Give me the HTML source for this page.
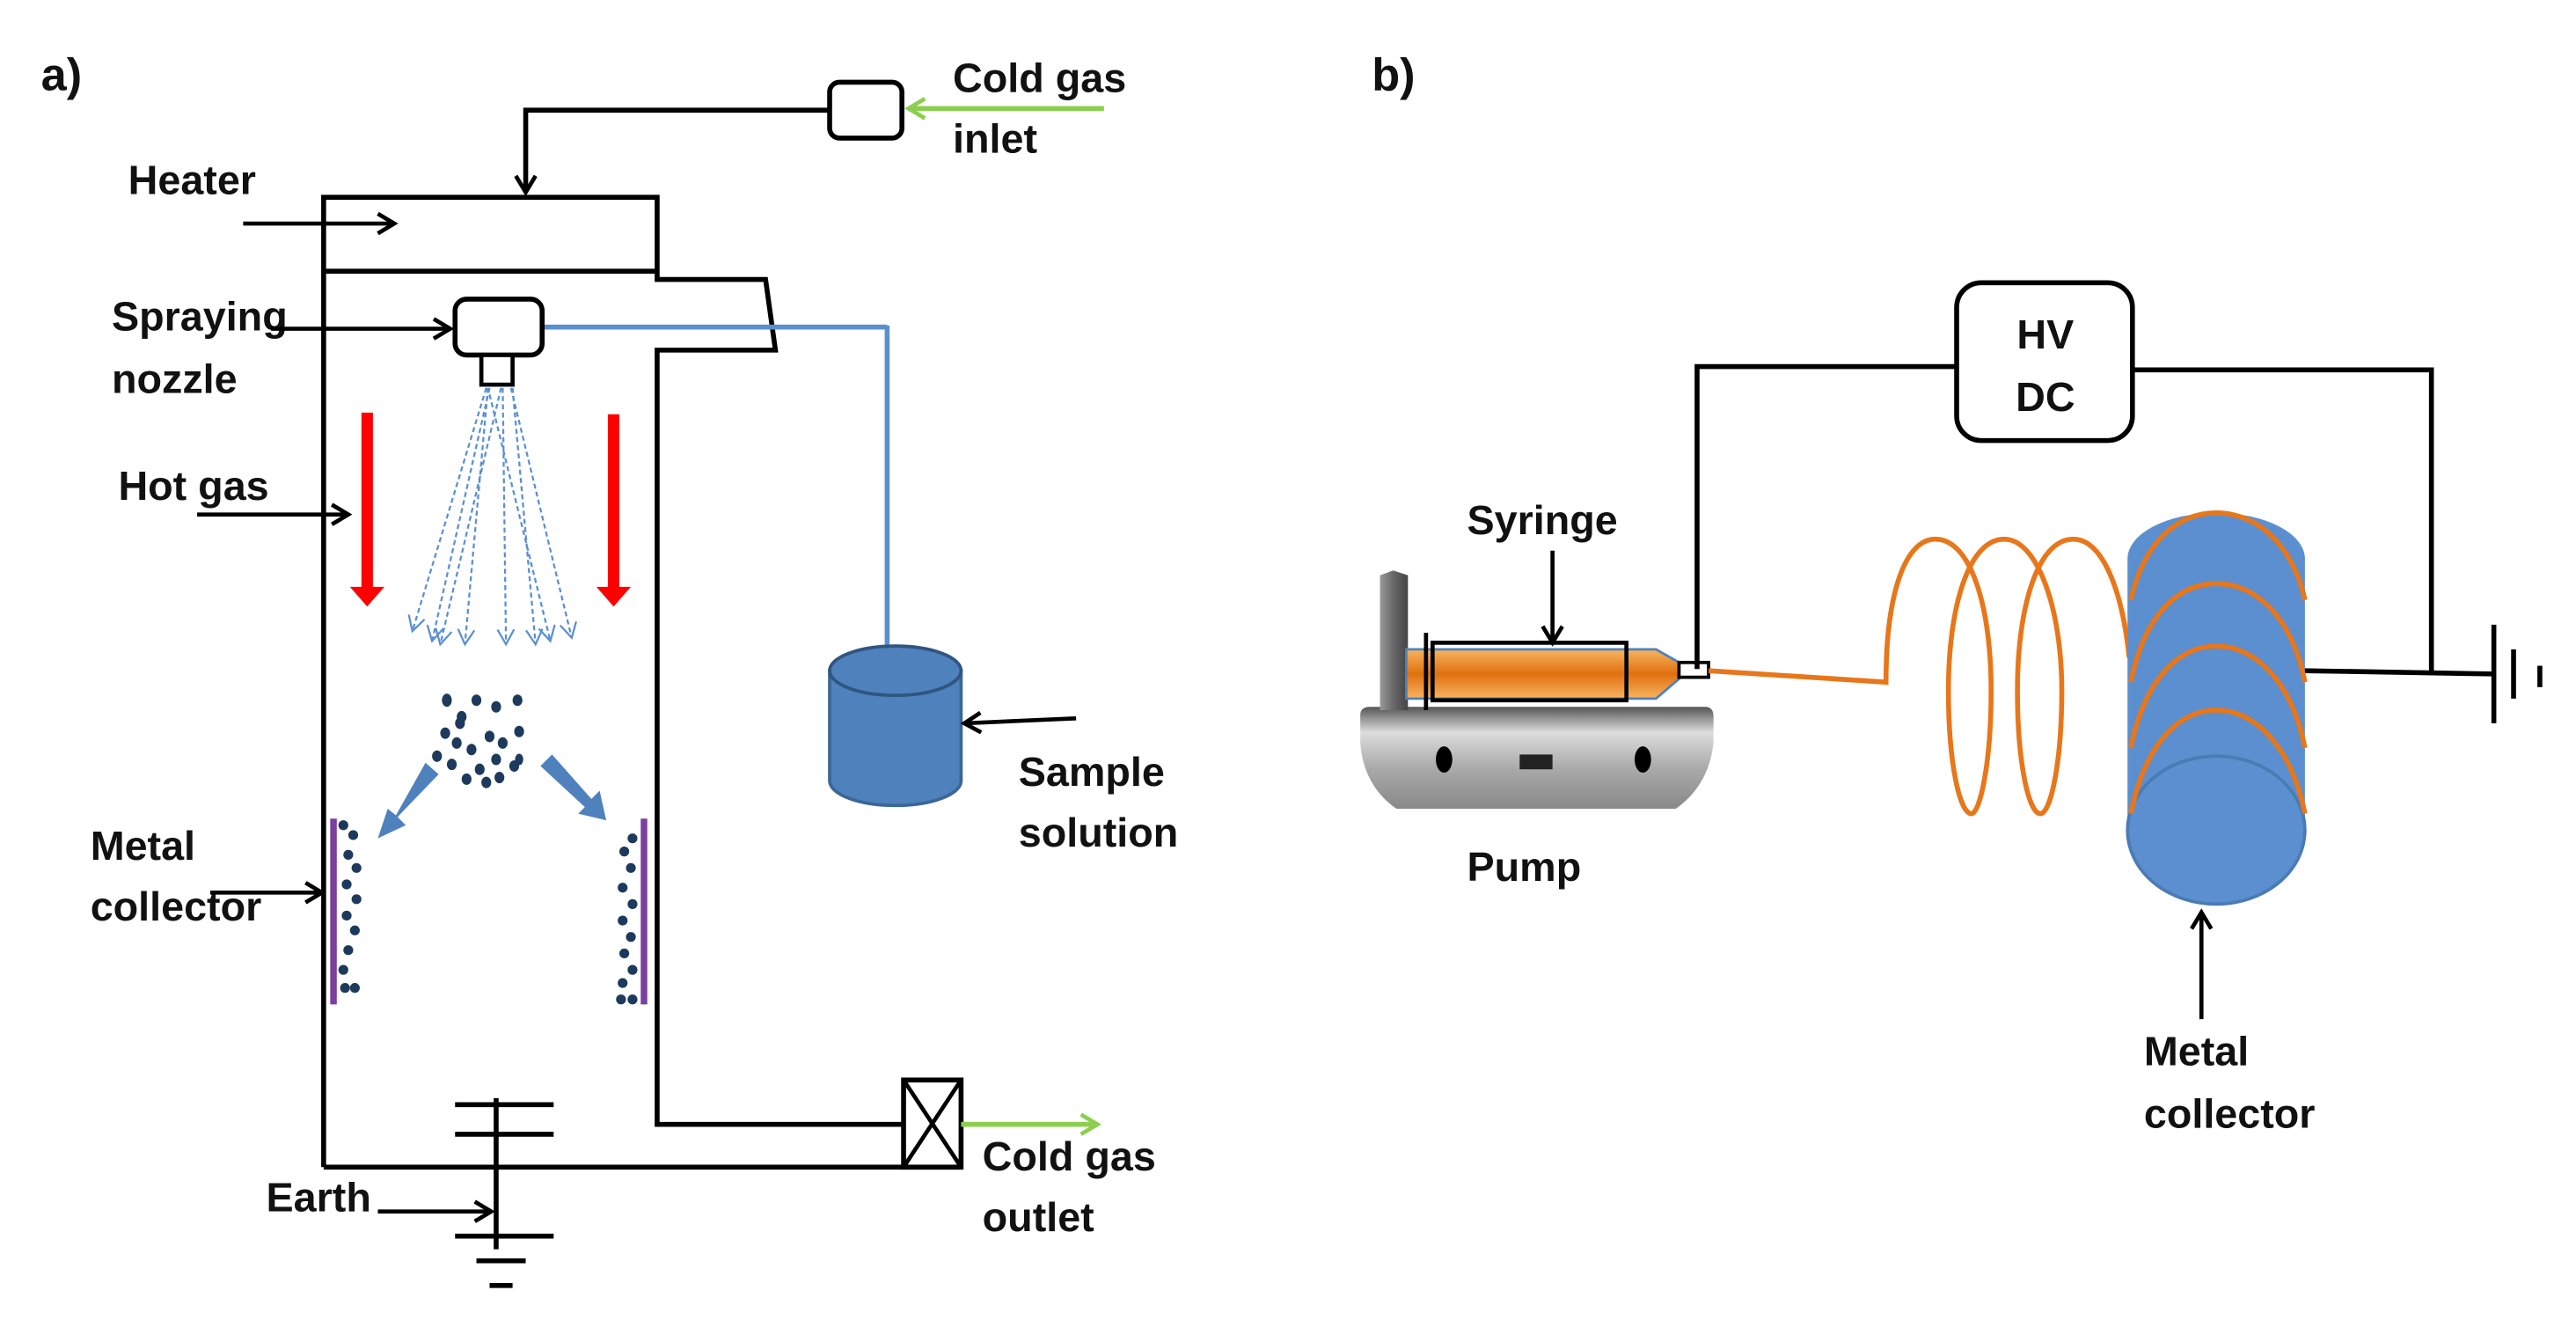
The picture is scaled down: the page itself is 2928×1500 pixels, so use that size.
<!DOCTYPE html>
<html><head><meta charset="utf-8"><style>
html,body{margin:0;padding:0;background:#fff;}
svg{display:block;}
text{font-family:"Liberation Sans",sans-serif;font-weight:bold;font-size:25px;fill:#111;}
</style></head><body>
<svg width="2928" height="1500" viewBox="0 0 1568 803" preserveAspectRatio="none" xmlns="http://www.w3.org/2000/svg">
<defs>
<marker id="ah" markerWidth="14" markerHeight="14" refX="11" refY="7" orient="auto" markerUnits="userSpaceOnUse"><path d="M1,1 L11,7 L1,13" fill="none" stroke="#000" stroke-width="2.5"/></marker>
<marker id="ag2" markerWidth="14" markerHeight="14" refX="11" refY="7" orient="auto" markerUnits="userSpaceOnUse"><path d="M1,1 L11,7 L1,13" fill="none" stroke="#8ccf4f" stroke-width="2.5"/></marker>
<marker id="ab" markerWidth="12" markerHeight="12" refX="10" refY="6" orient="auto" markerUnits="userSpaceOnUse"><path d="M1,1 L10,6 L1,11" fill="none" stroke="#5b8fd0" stroke-width="1.2"/></marker>
<linearGradient id="pg" x1="0" y1="0" x2="0" y2="1"><stop offset="0" stop-color="#555"/><stop offset="0.25" stop-color="#ddd"/><stop offset="0.6" stop-color="#aaa"/><stop offset="1" stop-color="#888"/></linearGradient>
<linearGradient id="sg" x1="0" y1="0" x2="0" y2="1"><stop offset="0" stop-color="#f7b560"/><stop offset="0.5" stop-color="#e07010"/><stop offset="1" stop-color="#f7b560"/></linearGradient>
<linearGradient id="post" x1="0" y1="0" x2="1" y2="0"><stop offset="0" stop-color="#999"/><stop offset="0.5" stop-color="#666"/><stop offset="1" stop-color="#444"/></linearGradient>
</defs>

<!-- Panel a -->
<text x="25" y="55" style="font-size:28px">a)</text>
<rect x="505" y="50" width="44" height="34" rx="6" fill="#fff" stroke="#000" stroke-width="3"/>
<line x1="672" y1="66" x2="553" y2="66" stroke="#8ccf4f" stroke-width="3" marker-end="url(#ag2)"/>
<text x="580" y="56">Cold gas</text><text x="580" y="93">inlet</text>
<polyline points="505,67 320,67 320,117" fill="none" stroke="#000" stroke-width="3" marker-end="url(#ah)"/>
<path d="M197,710 L197,120 L400,120 L400,170 L466,170 L472,213 L400,213 L400,684 L550,684" fill="none" stroke="#000" stroke-width="3"/>
<line x1="197" y1="165" x2="400" y2="165" stroke="#000" stroke-width="3"/>
<line x1="197" y1="710" x2="585" y2="710" stroke="#000" stroke-width="3"/>
<rect x="550" y="657" width="35" height="53" fill="#fff" stroke="#000" stroke-width="3"/>
<path d="M550,657 L585,710 M585,657 L550,710" stroke="#000" stroke-width="2.5"/>
<line x1="585" y1="684" x2="668" y2="684" stroke="#8ccf4f" stroke-width="3" marker-end="url(#ag2)"/>
<text x="598" y="712">Cold gas</text><text x="598" y="749">outlet</text>
<text x="78" y="118">Heater</text>
<line x1="148" y1="136" x2="240" y2="136" stroke="#000" stroke-width="2.5" marker-end="url(#ah)"/>
<line x1="330" y1="199" x2="540" y2="199" stroke="#5b8fd0" stroke-width="3"/>
<line x1="540" y1="198" x2="540" y2="398" stroke="#5b8fd0" stroke-width="3"/>
<rect x="277" y="182" width="53" height="34" rx="7" fill="#fff" stroke="#000" stroke-width="3"/>
<rect x="293" y="216" width="19" height="18" fill="#fff" stroke="#000" stroke-width="2.5"/>
<text x="68" y="201">Spraying</text><text x="68" y="239">nozzle</text>
<line x1="165" y1="200" x2="274" y2="200" stroke="#000" stroke-width="2.5" marker-end="url(#ah)"/>
<g stroke="#5b8fd0" stroke-width="1.2" stroke-dasharray="3,2" fill="none" marker-end="url(#ab)">
<line x1="296" y1="236" x2="251" y2="384"/><line x1="298" y1="236" x2="263" y2="390"/>
<line x1="305" y1="236" x2="268" y2="392"/><line x1="297" y1="236" x2="283" y2="392"/>
<line x1="306" y1="236" x2="308" y2="392"/><line x1="298" y1="240" x2="335" y2="390"/>
<line x1="312" y1="236" x2="326" y2="392"/><line x1="311" y1="236" x2="348" y2="388"/>
</g>
<path d="M220,251 h7 v106 h7 l-10.5,12 l-10.5,-12 h7 z" fill="#f00"/>
<path d="M370,252 h7 v105 h7 l-10.5,12 l-10.5,-12 h7 z" fill="#f00"/>
<text x="72" y="304">Hot gas</text>
<line x1="120" y1="313" x2="212" y2="313" stroke="#000" stroke-width="2.5" marker-end="url(#ah)"/>
<g fill="#1d3a5c">
<ellipse cx="272" cy="426" rx="3" ry="4"/>
<ellipse cx="271" cy="446" rx="3" ry="3.5"/><ellipse cx="281" cy="436" rx="3" ry="3.5"/><ellipse cx="290" cy="426" rx="3" ry="3.5"/>
<ellipse cx="302" cy="430" rx="3" ry="3.5"/><ellipse cx="315" cy="426" rx="3" ry="3.5"/><ellipse cx="298" cy="448" rx="3" ry="3.5"/>
<ellipse cx="278" cy="452" rx="3" ry="3.5"/><ellipse cx="287" cy="456" rx="3" ry="3.5"/><ellipse cx="306" cy="452" rx="3" ry="3.5"/>
<ellipse cx="316" cy="445" rx="3" ry="3.5"/><ellipse cx="266" cy="460" rx="3" ry="3.5"/><ellipse cx="275" cy="465" rx="3" ry="3.5"/>
<ellipse cx="292" cy="468" rx="3" ry="3.5"/><ellipse cx="302" cy="462" rx="3" ry="3.5"/><ellipse cx="313" cy="466" rx="3" ry="3.5"/>
<ellipse cx="284" cy="474" rx="3" ry="3.5"/><ellipse cx="296" cy="476" rx="3" ry="3.5"/><ellipse cx="304" cy="473" rx="3" ry="3.5"/>
<ellipse cx="280" cy="440" rx="3" ry="3.5"/><ellipse cx="316" cy="462" rx="2.5" ry="3.5"/>
</g>
<path d="M259,464 L267,471 L242,497 L247,502 L230,510 L236,492 L241,496 Z" fill="#4f81bd"/>
<path d="M329,466 L336,459 L360,486 L365,481 L369,499 L352,495 L356,491 Z" fill="#4f81bd"/>
<line x1="203" y1="498" x2="203" y2="611" stroke="#7b3fa0" stroke-width="4"/>
<line x1="392" y1="498" x2="392" y2="611" stroke="#7b3fa0" stroke-width="4"/>
<g fill="#1d3a5c">
<circle cx="209" cy="502" r="3"/><circle cx="215" cy="508" r="3"/><circle cx="212" cy="520" r="3"/><circle cx="217" cy="528" r="3"/>
<circle cx="211" cy="538" r="3"/><circle cx="217" cy="547" r="3"/><circle cx="211" cy="557" r="3"/><circle cx="216" cy="566" r="3"/>
<circle cx="212" cy="578" r="3"/><circle cx="209" cy="590" r="3"/><circle cx="210" cy="601" r="3"/><circle cx="216" cy="601" r="3"/>
<circle cx="385" cy="510" r="3"/><circle cx="380" cy="518" r="3"/><circle cx="384" cy="528" r="3"/><circle cx="379" cy="540" r="3"/>
<circle cx="385" cy="550" r="3"/><circle cx="379" cy="560" r="3"/><circle cx="384" cy="570" r="3"/><circle cx="380" cy="580" r="3"/>
<circle cx="385" cy="590" r="3"/><circle cx="379" cy="598" r="3"/><circle cx="378" cy="608" r="3"/><circle cx="385" cy="608" r="3"/>
</g>
<text x="55" y="523">Metal</text><text x="55" y="560">collector</text>
<line x1="128" y1="543" x2="196" y2="543" stroke="#000" stroke-width="2.5" marker-end="url(#ah)"/>
<g stroke="#000" stroke-width="3">
<line x1="302" y1="668" x2="302" y2="760"/>
<line x1="277" y1="672" x2="337" y2="672"/><line x1="277" y1="690" x2="337" y2="690"/>
<line x1="277" y1="752" x2="337" y2="752"/><line x1="290" y1="767" x2="320" y2="767"/><line x1="298" y1="782" x2="312" y2="782"/>
</g>
<text x="162" y="737">Earth</text>
<line x1="230" y1="737" x2="299" y2="737" stroke="#000" stroke-width="2.5" marker-end="url(#ah)"/>
<path d="M505,408 L505,475 A40,15 0 0 0 585,475 L585,408 Z" fill="#4f81bd" stroke="#3b6698" stroke-width="2"/>
<ellipse cx="545" cy="408" rx="40" ry="15" fill="#4f81bd" stroke="#2f5580" stroke-width="2"/>
<line x1="655" y1="437" x2="587" y2="440" stroke="#000" stroke-width="2.5" marker-end="url(#ah)"/>
<text x="620" y="478">Sample</text><text x="620" y="515">solution</text>

<!-- Panel b -->
<text x="835" y="55" style="font-size:28px">b)</text>
<g stroke="#000" stroke-width="3" fill="none">
<polyline points="1191,223 1033,223 1033,407"/>
<polyline points="1298,225 1480,225 1480,408"/>
<line x1="1402" y1="408" x2="1518" y2="410"/>
<line x1="1518" y1="380" x2="1518" y2="440"/><line x1="1530" y1="395" x2="1530" y2="425"/><line x1="1546" y1="405" x2="1546" y2="418"/>
</g>
<rect x="1191" y="172" width="107" height="96" rx="15" fill="#fff" stroke="#000" stroke-width="3"/>
<text x="1245" y="212" text-anchor="middle">HV</text><text x="1245" y="250" text-anchor="middle">DC</text>
<path d="M828,435 Q828,430 834,430 L1038,430 Q1043,430 1043,436 L1043,452 Q1040,478 1020,492 L850,492 Q830,478 828,452 Z" fill="url(#pg)"/>
<ellipse cx="879" cy="462" rx="5" ry="8" fill="#000"/><ellipse cx="1000" cy="462" rx="5" ry="8" fill="#000"/>
<rect x="925" y="459" width="20" height="9" fill="#222"/>
<path d="M840,350 L848,347 L857,350 L857,432 L840,432 Z" fill="url(#post)"/>
<path d="M856,395 L1008,395 L1022,403 L1022,413 L1008,425 L856,425 Z" fill="url(#sg)" stroke="#4f81bd" stroke-width="1.5"/>
<rect x="872" y="391" width="118" height="35" fill="none" stroke="#000" stroke-width="2.5"/>
<line x1="868" y1="385" x2="868" y2="432" stroke="#000" stroke-width="2.5"/>
<rect x="1022" y="403" width="18" height="9" fill="none" stroke="#000" stroke-width="2"/>
<text x="893" y="325">Syringe</text>
<line x1="945" y1="335" x2="945" y2="391" stroke="#000" stroke-width="2.5" marker-end="url(#ah)"/>
<text x="893" y="536">Pump</text>
<g fill="none" stroke="#e8761a" stroke-width="3">
<path d="M1040,408 L1148,415 C1148,360 1160,328 1178,328 C1200,328 1212,370 1212,420 C1212,465 1205,495 1200,495 C1193,495 1186,465 1186,420 C1186,370 1198,328 1220,328 C1240,328 1255,370 1255,420 C1255,465 1248,495 1242,495 C1235,495 1228,465 1228,420 C1228,370 1240,328 1262,328 C1280,328 1292,360 1296,400"/>
</g>
<path d="M1295,340 A54,28 0 0 1 1403,340 L1403,505 A54,45 0 0 1 1295,505 Z" fill="#5b8fcf"/>
<ellipse cx="1349" cy="505" rx="54" ry="45" fill="#5b8fcf" stroke="#4a7bb5" stroke-width="2"/>
<g fill="none" stroke="#e8761a" stroke-width="3">
<path d="M1297,365 C1305,330 1325,312 1349,312 C1373,312 1395,330 1403,365"/>
<path d="M1297,415 C1305,375 1325,355 1349,355 C1373,355 1395,375 1403,415"/>
<path d="M1297,455 C1305,415 1325,393 1349,393 C1373,393 1395,415 1403,455"/>
<path d="M1297,495 C1305,455 1325,432 1349,432 C1373,432 1395,455 1403,495"/>
</g>
<line x1="1340" y1="620" x2="1340" y2="555" stroke="#000" stroke-width="2.5" marker-end="url(#ah)"/>
<text x="1305" y="648">Metal</text><text x="1305" y="686">collector</text>
</svg>
</body></html>
